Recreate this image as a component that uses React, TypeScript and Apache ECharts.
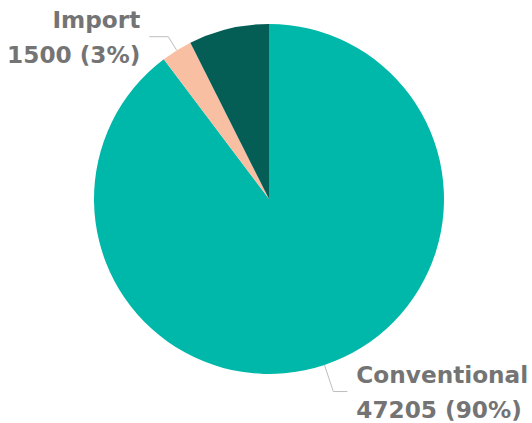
import React, { useEffect, useRef } from "react";
import * as echarts from "echarts";

const categories = ["Conventional", "Import", "Other"];
const values = [47205, 1500, 3900];
const colors = ["#00B8A9", "#F8BFA2", "#045E56"];
const showLabel = [true, true, false];
const lineLength = [28, 16, 15];
const lineLength2 = [14, 19, 15];

export default function App() {
  const ref = useRef<HTMLDivElement>(null);
  useEffect(() => {
    document.body.style.margin = "0";
    const chart = echarts.init(ref.current!, undefined, { renderer: "svg" });
    chart.setOption({
      animation: false,
      series: [
        {
          type: "pie",
          center: [269, 199],
          radius: [0, 175],
          startAngle: 90,
          clockwise: true,
          percentPrecision: 0,
          avoidLabelOverlap: false,
          label: {
            show: true,
            position: "outside",
            formatter: "{b}\n{c} ({d}%)",
            fontFamily: "DejaVu Sans",
            fontWeight: "bold",
            fontSize: 23.2,
            lineHeight: 35,
            color: "#747474",
            distanceToLabelLine: 9,
          },
          labelLine: {
            show: true,
            length: 20,
            length2: 15,
            lineStyle: { color: "#bdbdbd", width: 1 },
          },
          data: categories.map((name, i) => ({
            name,
            value: values[i],
            itemStyle: { color: colors[i] },
            label: { show: showLabel[i] },
            labelLine: {
              show: showLabel[i],
              length: lineLength[i],
              length2: lineLength2[i],
            },
          })),
        },
      ],
    });
    return () => chart.dispose();
  }, []);
  return <div ref={ref} style={{ width: 532, height: 423 }} />;
}
